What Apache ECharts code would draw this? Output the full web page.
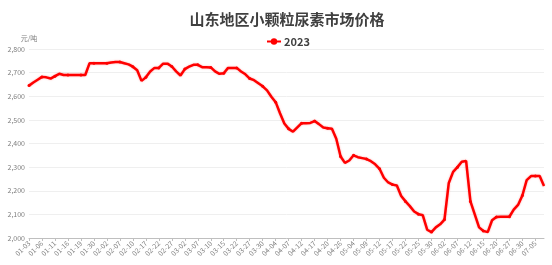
<!DOCTYPE html>
<html>
<head>
<meta charset="utf-8">
<script src="https://cdn.jsdelivr.net/npm/echarts@6/dist/echarts.min.js"></script>
<style>
html,body{margin:0;padding:0;background:#fff;}
#c{width:552px;height:265px;}
</style>
</head>
<body>
<div id="c"></div>
<script>
var titleText = '山东地区小颗粒尿素市场价格';
var seriesName = '2023';
var unitName = '元/吨';
var dates = [
'01-03','01-04','01-05','01-06','01-09','01-10','01-11','01-12','01-13','01-16',
'01-17','01-18','01-19','01-20','01-29','01-30','01-31','02-01','02-02','02-03',
'02-06','02-07','02-08','02-09','02-10','02-13','02-15','02-17','02-20','02-21',
'02-22','02-23','02-24','02-27','02-28','03-01','03-02','03-03','03-06','03-07',
'03-08','03-09','03-10','03-13','03-14','03-15','03-17','03-20','03-22','03-23',
'03-24','03-27','03-28','03-29','03-30','03-31','04-03','04-04','04-05','04-06',
'04-07','04-10','04-11','04-12','04-13','04-14','04-17','04-18','04-19','04-20',
'04-21','04-24','04-26','04-27','04-28','05-04','05-05','05-08','05-09','05-10',
'05-11','05-12','05-15','05-16','05-17','05-18','05-19','05-22','05-23','05-24',
'05-25','05-26','05-29','05-30','05-31','06-01','06-02','06-05','06-06','06-07',
'06-08','06-09','06-12','06-13','06-14','06-15','06-16','06-19','06-20','06-21',
'06-26','06-27','06-28','06-29','06-30','07-03','07-04','07-05','07-06','07-07'
];
var prices = [
2645,2658,2670,2682,2680,2675,2685,2695,2690,2690,
2690,2690,2690,2690,2740,2740,2740,2740,2740,2743,
2745,2745,2740,2735,2725,2710,2665,2680,2705,2720,
2720,2738,2738,2726,2705,2688,2715,2725,2733,2733,
2723,2723,2722,2705,2695,2697,2720,2720,2720,2705,
2693,2675,2668,2655,2642,2625,2598,2575,2528,2485,
2462,2450,2468,2486,2486,2487,2495,2482,2468,2465,
2462,2420,2345,2318,2328,2350,2342,2338,2334,2325,
2312,2293,2255,2235,2226,2222,2178,2155,2135,2112,
2101,2096,2035,2025,2045,2058,2078,2233,2280,2300,
2323,2326,2155,2100,2045,2030,2025,2075,2089,2090,
2090,2090,2120,2140,2180,2245,2262,2262,2262,2220
];
var yMin = 2000, yMax = 2800, yStep = 100;

var chart = echarts.init(document.getElementById('c'), null, {renderer:'canvas'});
chart.setOption({
  animation: false,
  backgroundColor: '#fff',
  textStyle: {fontFamily: '"Noto Sans CJK SC", "Noto Sans", sans-serif'},
  title: {
    text: titleText,
    left: 282, top: 7, textAlign: 'center',
    textStyle: {fontSize: 15, fontWeight: 'bold', color: '#404040', fontFamily: '"Noto Sans CJK SC", sans-serif'}
  },
  legend: {
    data: [seriesName],
    left: 261, top: 31,
    itemWidth: 14, itemHeight: 8, itemGap: 4,
    textStyle: {fontSize: 11, fontWeight: 'bold', color: '#404040', padding: [0,0,0,-2]}
  },
  grid: {left: 29, right: 8, top: 49, bottom: 27, containLabel: false},
  xAxis: {
    type: 'category',
    data: dates,
    boundaryGap: false,
    axisLine: {lineStyle: {color: '#bfbfbf'}},
    axisTick: {interval: 2, length: 3, lineStyle: {color: '#bfbfbf'}},
    axisLabel: {interval: 2, rotate: 45, fontSize: 7, color: '#7f7f7f', margin: 4}
  },
  yAxis: {
    type: 'value',
    min: yMin, max: yMax, interval: yStep,
    name: unitName,
    nameGap: 7,
    nameTextStyle: {fontSize: 7, color: '#7f7f7f'},
    axisLine: {show: false},
    axisTick: {show: false},
    axisLabel: {fontSize: 7, color: '#7f7f7f', margin: 4,
      formatter: function(v){ return echarts.format.addCommas(v); }},
    splitLine: {lineStyle: {color: '#efefef'}}
  },
  series: [{
    name: seriesName,
    type: 'line',
    data: prices,
    symbol: 'circle',
    symbolSize: 3,
    itemStyle: {color: '#ff0000'},
    lineStyle: {color: '#ff0000', width: 2.5, shadowColor: 'rgba(255,0,0,0.35)', shadowBlur: 2}
  }]
});
</script>
</body>
</html>
